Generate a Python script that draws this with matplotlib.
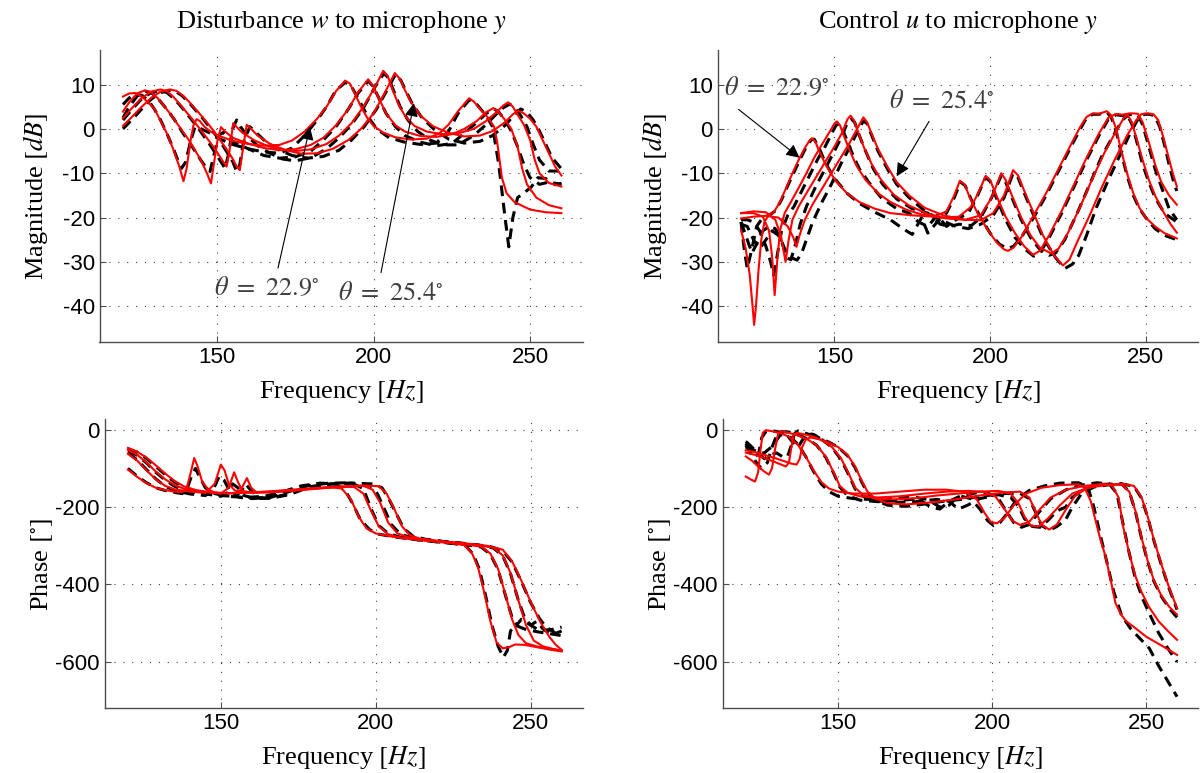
import matplotlib
matplotlib.use("Agg")
import matplotlib.pyplot as plt

plt.rcParams["mathtext.fontset"] = "stix"
plt.rcParams["axes.unicode_minus"] = False

# frequency / value pairs, 4 angles per panel
# red = model, black dashed = measured

mag_w_red = [
    [(120,7.3),(122,8.0),(124,8.1),(126,7.3),(128,6),(130,4.6),(132,1.8),(134,-1.0),(136,-4.5),(138,-8.5),(139.3,-11.8),(140.3,-9),(141.5,-3),(142.5,0.8),(143.5,2.2),(144.5,1.8),(146,0.5),(148,-0.6),(150,-1.4),(155,-2.7),(160,-3.4),(165,-3.8),(170,-3.6),(174,-2.6),(178,-0.6),(182,2.3),(185,5),(188,8.5),(190.9,10.9),(192.5,10.2),(194,8),(196,5),(198,2.5),(200,0.7),(203,-0.8),(207,-1.9),(212,-2.4),(217,-2.2),(221,-1),(224,1),(227,4),(230.5,6.9),(232,6.2),(234,4.5),(236.5,2.6),(238.5,0.5),(239.5,-3),(241,-11),(242.5,-14.5),(245,-16.5),(250,-18.2),(255,-18.8),(260,-19.0)],
    [(120,3.9),(122,6),(124.5,8),(127,8.7),(129,8.3),(131,7),(133,5.3),(135,3.5),(137,1.5),(139,-0.5),(141,-2.5),(143,-4.8),(145,-7.2),(146.8,-10),(148.1,-12.3),(149,-8),(150.2,-2.5),(151.3,0.4),(152.5,-0.5),(155,-2),(160,-3.3),(165,-4.3),(170,-4.8),(175,-4.6),(180,-3.6),(184,-2),(188,0.8),(192,4.5),(195,8.2),(198.3,11.2),(200,9.5),(202,6.5),(204,3.5),(207,0.8),(210,-0.6),(215,-1.6),(220,-1.8),(225,-1.2),(229,0),(233,1.8),(236,3.8),(238.3,4.7),(240,3.8),(242,2),(244,0),(246,-4),(247.5,-9),(249,-12.5),(252,-15.5),(256,-17.2),(260,-17.9)],
    [(120,2.4),(123,4.8),(126,7),(129,8.4),(132,8.9),(134,8.5),(136,7.3),(138,5.7),(140,4),(142,2.3),(144,0.5),(146,-1.3),(148,-3.2),(150,-5.2),(151.8,-7.2),(153.1,-8.5),(154,-5),(155.2,1.3),(156.2,0.5),(158,-0.8),(162,-2.6),(166,-3.8),(170,-4.6),(175,-5.0),(180,-4.6),(185,-3.4),(189,-1.5),(193,1.3),(197,5.2),(200.5,9.5),(203.1,13.1),(204.5,12),(206,9),(208,5.5),(210,3),(213,0.7),(217,-0.6),(222,-1.2),(227,-1.0),(232,0),(236,1.8),(239,3.6),(241.5,5.3),(243,6.0),(244.5,5.0),(246,3.2),(248,1.0),(250,-2.5),(251.5,-7),(253,-10),(256,-12.2),(260,-13.0)],
    [(120,0.7),(123,2.8),(126,5),(129,7),(132,8.4),(135,8.9),(137,8.6),(139,7.6),(141,6.2),(143,4.6),(145,3),(147,1.3),(149,-0.5),(151,-2.5),(153,-4.5),(155,-6.7),(156.3,-8.5),(157.3,-9.3),(158.2,-5),(159.5,0.9),(160.5,0.3),(163,-1.5),(167,-3.4),(172,-4.8),(177,-5.6),(182,-5.5),(187,-4.5),(192,-2.5),(196,0),(200,3.5),(203.5,8),(206.8,12.6),(208.5,11.2),(210,8.8),(212,6),(215,3),(219,0.6),(224,-0.9),(229,-1.7),(234,-1.5),(238,-0.5),(242,1.5),(244.5,3.3),(246.2,4.1),(248,3.5),(250,2.3),(252,0.5),(254,-2.5),(256,-5.5),(258,-8.5),(260,-10.5)],
]

mag_w_black = [
    [(120,5.5),(122,7),(124,7.8),(126,7.6),(128,6.5),(130,4.5),(132,2),(134,-1),(136,-4.3),(137.5,-7),(138.7,-8.9),(140,-7.5),(141.5,-3),(143,0.5),(145,0),(148,-1),(150,-2),(155,-3.5),(160,-4.5),(165,-5.2),(170,-5.5),(174,-4.3),(178,-1.5),(182,2),(185,5),(188,8.7),(191,10.5),(193,9.5),(195,7),(198,3),(201,0),(205,-2),(210,-3),(215,-3.5),(220,-3.2),(224,-0.5),(227,3.5),(230.5,6.5),(233,5.5),(236,3),(238,0.5),(240,-8),(242,-20),(243.2,-26.6),(244.5,-20),(246,-15.5),(248,-14.5),(250.5,-13),(252.5,-11),(255,-11.2),(258,-12.6),(260,-12.3)],
    [(120,2.5),(122,5),(124.5,7.4),(127,8.5),(129,8.2),(131,7),(133,5.3),(135,3.5),(137,1.5),(139,-0.8),(141,-2.8),(143,-5),(145,-7.2),(146.8,-9),(147.8,-9.6),(149,-6),(150.5,-1.5),(152,-0.8),(155,-2.8),(160,-4.5),(165,-6),(170,-6.6),(175,-6.3),(180,-5),(184,-2.5),(188,0.5),(192,4.5),(195,8),(198.3,10.8),(200,9.5),(202,6.5),(204,3.5),(207,0.5),(210,-1.5),(215,-3),(220,-3.8),(225,-3.3),(229,-1),(233,1.5),(236,3.5),(238.5,4.5),(240,3.8),(242,2),(244,-0.5),(246,-4),(248,-8),(250,-11),(253,-12.5),(256,-12),(260,-12.5)],
    [(120,2.0),(123,4.5),(126,6.8),(129,8.2),(132,8.6),(134,8.2),(136,7),(138,5.5),(140,3.8),(142,2),(144,0.2),(146,-1.8),(148,-3.8),(150,-6),(151.8,-8),(152.6,-8.9),(153.6,-6),(155,0),(156.3,2.0),(157.5,0.5),(160,-1.8),(163,-3.8),(167,-5.5),(171,-6.8),(175,-7.2),(180,-6.5),(185,-4.5),(189,-2),(193,1),(197,5),(200.5,9.5),(203.3,12.5),(204.8,11.5),(206.5,8.5),(208.5,5),(211,2),(214,-0.5),(218,-2.5),(222,-3.6),(227,-3.6),(232,-1.5),(236,1),(239,3.2),(241.5,4.8),(243.5,5.6),(245,4.8),(247,3),(249,0.5),(251,-3.5),(253,-7),(256,-9.5),(260,-9.5)],
    [(120,0),(123,2.2),(126,4.5),(129,6.7),(132,8.2),(135,8.7),(137,8.4),(139,7.4),(141,6),(143,4.4),(145,2.8),(147,1),(149,-0.8),(151,-2.8),(153,-5),(155,-7.3),(156.3,-9.6),(157.3,-8),(158.5,-3),(160.5,0.5),(162,-0.5),(165,-2.5),(169,-4.5),(174,-6),(179,-6.6),(184,-6.2),(189,-4.8),(193,-2.5),(197,0.5),(201,4.5),(204.5,9),(207,12.3),(208.7,11),(210.5,8.3),(212.5,5.5),(215.5,2.5),(219.5,-0.2),(224,-2.3),(229,-3.2),(234,-2.8),(238,-1.5),(242,0.8),(245,3.2),(247,4.5),(249,3.8),(251,2),(253,-0.5),(255,-3.5),(257,-6.5),(260,-9)],
]

mag_u_red = [
    [(120,-22.8),(121.5,-27),(122.8,-33),(123.7,-40),(124.2,-44.2),(124.8,-40),(125.6,-32),(126.5,-25),(127.5,-21),(129,-19.3),(130.6,-18.7),(132.5,-16.5),(134.5,-13.3),(136.5,-10),(138.5,-7),(140.5,-4.3),(142,-2.6),(142.8,-2.1),(143.8,-2.8),(145,-4.8),(147,-7.8),(149,-10.2),(151,-12.2),(154,-14.5),(158,-16.5),(163,-18),(168,-19),(175,-19.5),(182,-19.8),(186,-18.6),(188.5,-15),(190.3,-11.7),(191.8,-12.5),(193.5,-15.5),(196,-19),(199,-22.5),(202,-25.5),(204.5,-27.2),(205.8,-27.5),(207.5,-26.8),(210,-24.5),(214,-19.5),(218,-14.5),(222,-9),(226,-3.5),(229,0.5),(231,2.7),(233,3.5),(235,3.4),(237.5,4.0),(239,3),(240.5,0),(242,-4.5),(244,-10),(246,-14.5),(248,-17.8),(250,-20),(253,-22),(256,-23.5),(260,-24.7)],
    [(120,-19),(124,-19),(127,-19.8),(129,-23),(130,-29),(130.8,-37.5),(131.6,-30),(132.5,-23),(134,-19),(136,-16.5),(138.5,-13.3),(141,-10),(143.5,-6.5),(146,-3.5),(148.5,-0.6),(150,1.2),(150.8,1.7),(151.8,0.8),(153,-1.5),(155,-5),(157,-8.2),(160,-11.5),(164,-14.5),(168,-16.5),(173,-18.2),(178,-19.3),(184,-20),(190,-19.8),(194,-17.5),(196.5,-14),(198.6,-10.6),(200,-11.5),(202,-15),(205,-19.8),(208,-23.5),(211,-26.5),(213.8,-28.4),(216,-27.5),(219,-24),(223,-18.5),(227,-12.5),(231,-6.5),(235,-1),(238,2.5),(240.5,3.4),(242.5,3.2),(244,3.4),(245.5,1.5),(247,-2),(249,-7),(251,-11.5),(253,-15),(255.5,-18.5),(258,-21.5),(260,-23.4)],
    [(120,-19),(124,-18.6),(128,-18.8),(131,-20.5),(132.8,-24),(134.3,-30),(135.3,-25),(136.5,-20.5),(138.5,-17.5),(141,-14.5),(144,-11),(147,-7.5),(150,-4),(152.5,-0.8),(154.2,2.2),(155.2,3.0),(156.2,2.0),(157.5,-0.5),(159.5,-4.2),(162,-8),(165,-11.5),(169,-14.8),(174,-17.3),(180,-19.2),(186,-20.2),(192,-20.5),(197,-19.5),(200.5,-15.5),(203.6,-10),(205,-11.5),(207,-15),(210,-20),(213,-24),(216,-26.8),(219.7,-28.1),(222,-27),(225,-23.5),(229,-17.5),(233,-11),(237,-5),(240.5,-0.5),(243,2.5),(244.5,3.5),(246,3.5),(247.5,3.4),(249,1.5),(251,-3),(253,-8),(255,-12),(257.5,-15),(260,-17.1)],
    [(120,-20.2),(124,-19.8),(128,-19.6),(132,-20),(135,-22),(136.8,-24.5),(137.8,-26.6),(138.8,-24),(140.5,-20.5),(143,-17),(146,-13.5),(149,-10),(152,-6.5),(155,-3),(157.5,0.3),(159.3,2.6),(160.5,1.5),(162,-1.2),(164,-4.5),(167,-8.5),(170,-12),(174,-15),(179,-17.8),(185,-19.5),(192,-20.5),(197,-20.6),(201,-19),(204.5,-15),(207.4,-9.3),(209,-10.5),(211,-14),(214,-19),(217,-24),(220.5,-28.5),(223.4,-30.8),(225.5,-29.5),(228,-25.5),(232,-19.5),(236,-13),(240,-7),(244,-1.5),(247,2),(248.5,3.3),(250.5,3.5),(252.5,3.3),(254,2),(255.5,-1.5),(257,-5.5),(258.5,-9.5),(260,-13)],
]

mag_u_black = [
    [(120,-21),(121,-27),(122,-31.5),(123.5,-27),(125,-22),(127,-20),(129,-19.5),(131,-18.5),(133,-16),(135,-12.8),(137,-9.8),(139,-6.8),(141,-4),(142.5,-2.5),(143.5,-2.3),(145,-4.2),(147,-7.5),(149,-10),(151,-12),(154,-14.5),(158,-16.8),(163,-18.8),(168,-20.5),(172,-22.5),(175,-23.8),(178,-20),(180,-23.5),(183,-21),(186,-19),(188.5,-15.5),(190.5,-12),(192,-12.8),(194,-16),(197,-20),(200,-23.5),(203,-26),(205.5,-27),(207.5,-26.5),(210,-24.5),(214,-20),(218,-15),(222,-9.5),(226,-4),(229,0),(231,2.5),(233,3.3),(235,3.3),(237.5,3.8),(239,2.5),(240.5,-0.5),(242,-5),(244,-10.5),(246,-15),(248,-18),(250,-20),(253,-22.5),(256,-24),(260,-25)],
    [(120,-20.5),(122,-20.5),(124,-21),(126,-23),(128,-26.5),(129.5,-30),(130.5,-33),(131.5,-29),(133,-23),(135,-19.5),(137,-17.5),(139.5,-14),(142,-10.5),(144.5,-7),(147,-4),(149,-1.2),(150.5,0.8),(151.5,1.2),(152.5,0),(154,-2.5),(156,-6),(158,-9),(161,-12),(165,-15.5),(170,-18),(174,-19),(177,-21),(180,-22),(183,-19.5),(186,-22),(189,-20.5),(193,-19),(196,-15),(198.5,-11),(200,-11.8),(202,-15.5),(205,-20.5),(208,-24.5),(211,-27),(214,-28.7),(216,-28),(219,-24.5),(223,-19),(227,-13),(231,-7),(235,-1.5),(238,2.2),(240.5,3.2),(242.5,3.0),(244,3.2),(245.5,1.2),(247,-2.5),(249,-8),(251,-12),(253,-15.5),(256,-19),(260,-21)],
    [(120,-21),(122,-25),(123.5,-28),(125,-26),(127,-23),(129,-22),(131,-22.5),(133,-25),(134.5,-29),(136,-29.5),(137.5,-26),(139,-21.5),(141,-17.5),(144,-13),(147,-9),(150,-5),(152.5,-1.5),(154.2,1.5),(155.5,2.2),(156.5,1.5),(158,-1.5),(160,-5),(162.5,-9),(165.5,-12.5),(170,-15.8),(175,-18),(180,-19),(184,-21.5),(187,-22),(190,-21.5),(194,-21.8),(197,-20),(200.5,-15.5),(203.6,-10.5),(205,-12),(207,-15.5),(210,-20.5),(213,-24.5),(216,-27.2),(219,-28.5),(221,-28),(224,-25),(228,-19),(232,-12.5),(236,-6),(240,-1),(242.5,2),(244.5,3.2),(246,3.3),(247.5,3.1),(249,1),(251,-4),(253,-9),(255,-13),(257.5,-18),(260,-20.5)],
    [(120,-21.5),(122,-22),(124,-25),(126,-27),(128,-25),(130,-23),(132,-24),(134,-27),(136,-29),(138,-29.6),(139.5,-28),(141,-25),(143,-21),(146,-16.5),(149,-12.5),(152,-8),(155,-4),(157.5,-0.5),(159.3,1.8),(160.5,1.2),(162,-1.5),(164,-5),(167,-9),(170,-12.5),(174,-15.5),(179,-18.5),(184,-20.5),(189,-22),(193,-22.5),(197,-21.5),(201,-19.5),(204.5,-15.5),(207.4,-10),(209,-11),(211,-14.5),(214,-19.5),(217,-24.5),(221,-29),(224,-31.5),(226.5,-30.5),(228.5,-28.5),(231,-24),(234,-18),(238,-11.5),(242,-5.5),(245,-1),(247.5,2.2),(249.5,3.3),(251.5,3.3),(253,2.8),(254.5,0.5),(256,-3.5),(257.5,-8),(259,-12),(260,-14)],
]

ph_w_red = [
    [(120,-103),(123,-122),(126,-138),(129,-150),(132,-156),(135,-160),(137.5,-161),(139,-150),(140.3,-110),(141.4,-73),(142.5,-95),(144,-135),(146,-155),(148,-162),(152,-164),(158,-163),(165,-160),(172,-156),(180,-152),(186,-149),(189,-152),(192,-180),(194.5,-225),(197,-255),(200,-268),(205,-276),(211,-282),(218,-288),(224,-293),(228.5,-298),(231,-318),(233,-355),(235,-420),(237,-495),(239,-550),(241,-565),(243,-562),(245,-555),(248,-556),(252,-562),(256,-568),(260,-573)],
    [(120,-62),(123,-80),(126,-105),(129,-128),(132,-145),(135,-154),(140,-160),(145,-163),(148,-140),(150,-90),(151.2,-105),(152.5,-140),(154.5,-157),(158,-162),(165,-160),(172,-156),(180,-151),(188,-147),(193,-148),(196,-165),(198.5,-210),(201,-250),(204,-270),(208,-279),(213,-284),(220,-289),(228,-295),(234,-302),(237,-320),(239.5,-360),(242,-430),(244,-490),(246,-530),(248.5,-552),(252,-560),(256,-566),(260,-571)],
    [(120,-52),(123,-65),(126,-85),(129,-108),(132,-128),(135,-143),(138,-152),(142,-158),(146,-162),(150,-165),(152.5,-150),(154.3,-110),(155.5,-135),(157,-158),(160,-163),(166,-161),(173,-157),(180,-152),(188,-147),(196,-145),(199,-155),(201.5,-190),(204,-240),(207,-268),(211,-279),(216,-285),(224,-291),(232,-297),(238,-305),(241,-325),(243.5,-370),(246,-440),(248.5,-505),(251,-545),(254,-560),(257,-566),(260,-571)],
    [(120,-47),(123,-57),(126,-72),(129,-92),(132,-113),(135,-132),(138,-146),(142,-156),(146,-161),(150,-164),(154,-165),(156.5,-155),(158.4,-125),(159.8,-150),(161.5,-162),(166,-162),(173,-158),(180,-153),(188,-148),(196,-144),(201,-146),(203.5,-165),(206,-205),(208.5,-250),(211,-272),(214,-281),(220,-287),(228,-293),(236,-300),(241,-310),(244,-340),(247,-390),(250,-445),(253,-495),(256,-535),(258,-555),(260,-569)],
]

ph_w_black = [
    [(120,-100),(123,-120),(126,-137),(129,-150),(132,-157),(135,-162),(137.5,-165),(139,-155),(140.5,-120),(141.8,-100),(143,-120),(145,-150),(148,-165),(152,-172),(158,-175),(164,-172),(170,-160),(176,-145),(182,-138),(187,-140),(190,-155),(192.5,-190),(195,-232),(198,-258),(201,-270),(206,-277),(212,-283),(219,-289),(225,-294),(229,-300),(231.5,-322),(233.5,-362),(235.5,-430),(237.5,-505),(239.5,-560),(241.2,-588),(242.5,-570),(243.5,-520),(245,-505),(248,-515),(252,-522),(256,-527),(260,-532)],
    [(120,-60),(123,-78),(126,-103),(129,-127),(132,-146),(135,-157),(140,-166),(145,-170),(147.5,-155),(149.5,-120),(151,-130),(153,-160),(156,-175),(160,-178),(166,-175),(172,-160),(178,-145),(185,-138),(192,-137),(196,-152),(198.5,-205),(201,-248),(204,-268),(208,-278),(213,-284),(220,-290),(228,-296),(234,-303),(237,-322),(239.5,-362),(242,-432),(244,-485),(245.5,-505),(247,-490),(249,-500),(252,-515),(256,-518),(260,-510)],
    [(120,-55),(123,-66),(126,-86),(129,-110),(132,-130),(135,-146),(138,-156),(142,-163),(146,-167),(150,-172),(152,-165),(153.8,-140),(155.5,-150),(157.5,-170),(161,-178),(166,-177),(172,-165),(178,-148),(185,-140),(192,-138),(198,-143),(200.5,-165),(202.5,-200),(205,-245),(208,-270),(212,-280),(218,-286),(226,-292),(233,-298),(238,-306),(241,-326),(243.5,-372),(246,-440),(248,-485),(250,-505),(252,-495),(254,-515),(257,-530),(260,-520)],
    [(120,-49),(123,-58),(126,-74),(129,-95),(132,-116),(135,-135),(138,-150),(142,-160),(146,-166),(150,-170),(154,-172),(156.3,-162),(158,-140),(159.5,-155),(162,-175),(166,-177),(172,-168),(178,-150),(185,-141),(192,-138),(199,-140),(202,-150),(204,-175),(206.5,-215),(209,-255),(212,-275),(216,-283),(222,-289),(230,-295),(237,-302),(241,-313),(244,-342),(247,-392),(250,-447),(253,-490),(255,-510),(257,-520),(260,-538)],
]

ph_u_red = [
    [(120,-121),(121.5,-128),(123,-134),(124,-110),(124.8,-50),(125.5,-8),(126.5,-1),(128,-3),(131,-8),(134,-18),(137,-40),(139.5,-70),(142,-105),(144.5,-135),(147,-152),(150,-160),(155,-165),(162,-165),(170,-160),(178,-155),(185,-155),(191,-160),(195,-180),(197.5,-215),(199.5,-238),(201.5,-242),(204,-228),(207,-195),(211,-165),(216,-150),(222,-143),(228,-141),(230,-150),(232,-185),(233.5,-233),(235,-280),(236.8,-328),(238.5,-390),(240,-448),(242,-480),(243.5,-495),(246,-510),(250,-535),(255,-558),(260,-582)],
    [(120,-69),(122,-80),(124,-95),(126,-108),(127.5,-116),(128.5,-100),(129.5,-50),(130.5,-10),(131.5,-4),(134,-8),(137,-15),(140,-25),(143,-40),(146,-70),(148.5,-110),(150.5,-145),(153,-163),(157,-172),(163,-175),(170,-172),(178,-165),(185,-160),(192,-158),(197,-160),(201,-172),(204,-205),(206.5,-235),(209,-246),(212,-238),(215,-210),(219,-175),(224,-155),(230,-145),(236,-140),(239,-145),(241,-175),(242.5,-250),(244.5,-320),(246.5,-379),(248.5,-420),(250.8,-457),(254,-495),(257,-520),(260,-543)],
    [(120,-59),(123,-65),(126,-73),(129,-82),(131.5,-90),(133,-95),(134,-85),(134.8,-45),(135.5,-15),(136.5,-8),(139,-12),(142,-18),(145,-28),(148,-45),(151,-75),(153.5,-115),(155.5,-150),(158,-168),(162,-178),(168,-180),(175,-177),(182,-170),(189,-165),(196,-160),(202,-158),(206,-165),(208.5,-190),(210.5,-225),(212.5,-248),(215,-250),(218,-230),(222,-195),(226,-165),(231,-150),(237,-143),(242,-142),(244.5,-160),(246.5,-210),(248.5,-280),(250.5,-340),(252.5,-390),(255,-430),(257.5,-458),(260,-478)],
    [(120,-53),(123,-58),(126,-65),(129,-72),(132,-80),(134.5,-87),(136.5,-90),(137.5,-75),(138.3,-45),(139.5,-25),(141,-20),(144,-25),(147,-33),(150,-45),(153,-65),(155.5,-95),(157.5,-130),(159.5,-160),(162,-178),(166,-190),(172,-193),(180,-188),(188,-180),(196,-170),(204,-162),(209,-160),(212,-175),(214,-210),(216,-245),(218.5,-258),(221,-245),(224,-205),(227,-170),(231,-150),(236,-142),(242,-140),(246,-145),(248.5,-175),(250.5,-225),(252.5,-285),(255,-350),(257.5,-410),(260,-461)],
]

ph_u_black = [
    [(120,-35),(121.5,-55),(123,-70),(124.2,-60),(125.2,-20),(126.5,-5),(128,-2),(131,-6),(134,-16),(137,-38),(139.5,-70),(142,-108),(144.5,-140),(147,-160),(150,-172),(155,-178),(160,-180),(167,-178),(173,-172),(179,-180),(183,-200),(186,-195),(189,-170),(193,-178),(196,-205),(198.5,-235),(200.5,-248),(202.5,-240),(205,-215),(208,-180),(212,-157),(217,-145),(222,-138),(228,-137),(231,-147),(233,-200),(235,-270),(237,-335),(239.5,-420),(242,-480),(245,-515),(248,-540),(251,-565),(254,-610),(257,-650),(260,-690)],
    [(120,-40),(121.5,-60),(123,-80),(125,-100),(127,-85),(128.5,-45),(130,-15),(131.5,-5),(134,-6),(137,-13),(140,-24),(143,-40),(146,-72),(148.5,-112),(150.5,-148),(153,-170),(157,-182),(163,-186),(170,-183),(176,-178),(180,-200),(183,-205),(186,-185),(190,-170),(195,-163),(199,-165),(202,-178),(204.5,-210),(207,-240),(209.5,-252),(212,-245),(215,-215),(219,-178),(224,-155),(229,-143),(234,-137),(238,-140),(240.5,-165),(242.5,-245),(244.5,-320),(246.5,-385),(249,-440),(251,-475),(254,-525),(257,-565),(260,-600)],
    [(120,-30),(122,-45),(124,-60),(126,-75),(128,-65),(130,-60),(132,-70),(133.5,-70),(134.8,-40),(135.8,-10),(137,-3),(139,-8),(142,-16),(145,-27),(148,-46),(151,-78),(153.5,-118),(155.5,-153),(158,-172),(162,-183),(168,-188),(175,-186),(182,-180),(186,-185),(189,-205),(192,-195),(196,-178),(202,-168),(206,-175),(208.5,-198),(210.5,-230),(213,-250),(215.5,-252),(218,-235),(221,-210),(223.8,-200),(226,-175),(230,-152),(236,-141),(242,-140),(244.5,-160),(246.5,-212),(248.5,-282),(250.5,-342),(252.5,-392),(255,-432),(257.5,-462),(260,-485)],
    [(120,-45),(122,-50),(124,-58),(126,-60),(129,-40),(131,-15),(133,-10),(135,-30),(137,-45),(138.5,-25),(140,-10),(142,-12),(144,-22),(147,-32),(150,-45),(153,-67),(155.5,-98),(157.5,-133),(159.5,-163),(162,-182),(166,-195),(172,-198),(178,-192),(184,-185),(190,-180),(196,-172),(204,-165),(209,-164),(212,-178),(214,-212),(216,-247),(218.5,-260),(221,-250),(223.8,-233),(226,-200),(229,-165),(233,-148),(238,-142),(242,-140),(246,-146),(248.5,-177),(250.5,-227),(252.5,-287),(255,-352),(257.5,-412),(260,-465)],
]

freq_ticks = [150, 200, 250]
mag_ticks = [10, 0, -10, -20, -30, -40]
ph_ticks = [0, -200, -400, -600]

titles = ["Disturbance $w$ to microphone $y$", "Control $u$ to microphone $y$"]
angle_labels = [r"$\theta\ =\ 22.9^{\circ}$", r"$\theta\ =\ 25.4^{\circ}$"]

W, H = 1203, 773
fig = plt.figure(figsize=(W / 100, H / 100), dpi=100)


def make_axes(l, r, t, b):
    return fig.add_axes([l / W, 1 - b / H, (r - l) / W, (b - t) / H])


ax_tl = make_axes(99.5, 582.7, 50, 341.7)
ax_tr = make_axes(717.7, 1198, 50, 341.7)
ax_bl = make_axes(104.7, 582.7, 419.3, 708.3)
ax_br = make_axes(722.7, 1198, 419.3, 708.3)

serif = "Liberation Serif"


def style(ax, ylim, yticks, ylabel, ylab_x):
    ax.set_xlim(112.5, 266.8)
    ax.set_ylim(*ylim)
    ax.set_xticks(freq_ticks)
    ax.set_yticks(yticks)
    for s in ["top", "right"]:
        ax.spines[s].set_visible(False)
    for s in ["left", "bottom"]:
        ax.spines[s].set_color("0.3")
        ax.spines[s].set_linewidth(1.0)
    ax.tick_params(direction="in", length=4, width=0.8, labelsize=16, color="0.3")
    for lab in ax.get_xticklabels() + ax.get_yticklabels():
        lab.set_fontfamily("Liberation Sans")
    ax.grid(True, color="0.25", linewidth=0.8, dashes=(1, 7))
    ax.set_axisbelow(True)
    ax.set_xlabel("Frequency $[Hz]$", fontsize=19, family=serif)
    ax.xaxis.set_label_coords(0.5, -0.125)
    ax.set_ylabel(ylabel, fontsize=19, family=serif)
    ax.yaxis.set_label_coords(ylab_x, 0.5)


def draw(ax, black, red):
    for pts in black:
        f, v = zip(*pts)
        ax.plot(f, v, color="k", linewidth=2.2, dashes=(3.5, 2.2), zorder=2)
    for pts in red:
        f, v = zip(*pts)
        ax.plot(f, v, color="#ff0000", linewidth=1.5, zorder=3)


draw(ax_tl, mag_w_black, mag_w_red)
draw(ax_tr, mag_u_black, mag_u_red)
draw(ax_bl, ph_w_black, ph_w_red)
draw(ax_br, ph_u_black, ph_u_red)

style(ax_tl, (-48, 17.8), mag_ticks, "Magnitude $[dB]$", -0.102)
style(ax_tr, (-48, 17.8), mag_ticks, "Magnitude $[dB]$", -0.102)
style(ax_bl, (-720, 27), ph_ticks, r"Phase $[^{\circ}]$", -0.105)
style(ax_br, (-720, 27), ph_ticks, r"Phase $[^{\circ}]$", -0.105)

ax_tl.set_title(titles[0], fontsize=19, family=serif, pad=16)
ax_tr.set_title(titles[1], fontsize=19, family=serif, pad=16)

arrow = dict(arrowstyle="-|>", color="k", lw=0.8, mutation_scale=20, shrinkA=0, shrinkB=0)
txt = dict(fontsize=19, color="0.25", ha="center", va="center")

# left magnitude annotations
ax_tl.annotate("", xy=(179.7, 0.5), xytext=(169.5, -31.4), arrowprops=arrow)
ax_tl.annotate("", xy=(212.9, 5.8), xytext=(202.4, -32.4), arrowprops=arrow)
ax_tl.text(166, -35.9, angle_labels[0], **txt)
ax_tl.text(205.6, -37, angle_labels[1], **txt)

# right magnitude annotations
ax_tr.annotate("", xy=(138.8, -6.5), xytext=(119.2, 4.4), arrowprops=arrow)
ax_tr.annotate("", xy=(170, -10.7), xytext=(180.4, 1.7), arrowprops=arrow)
ax_tr.text(131.5, 9.2, angle_labels[0], **txt)
ax_tr.text(184.4, 6.2, angle_labels[1], **txt)

fig.savefig("out.png", dpi=100)
